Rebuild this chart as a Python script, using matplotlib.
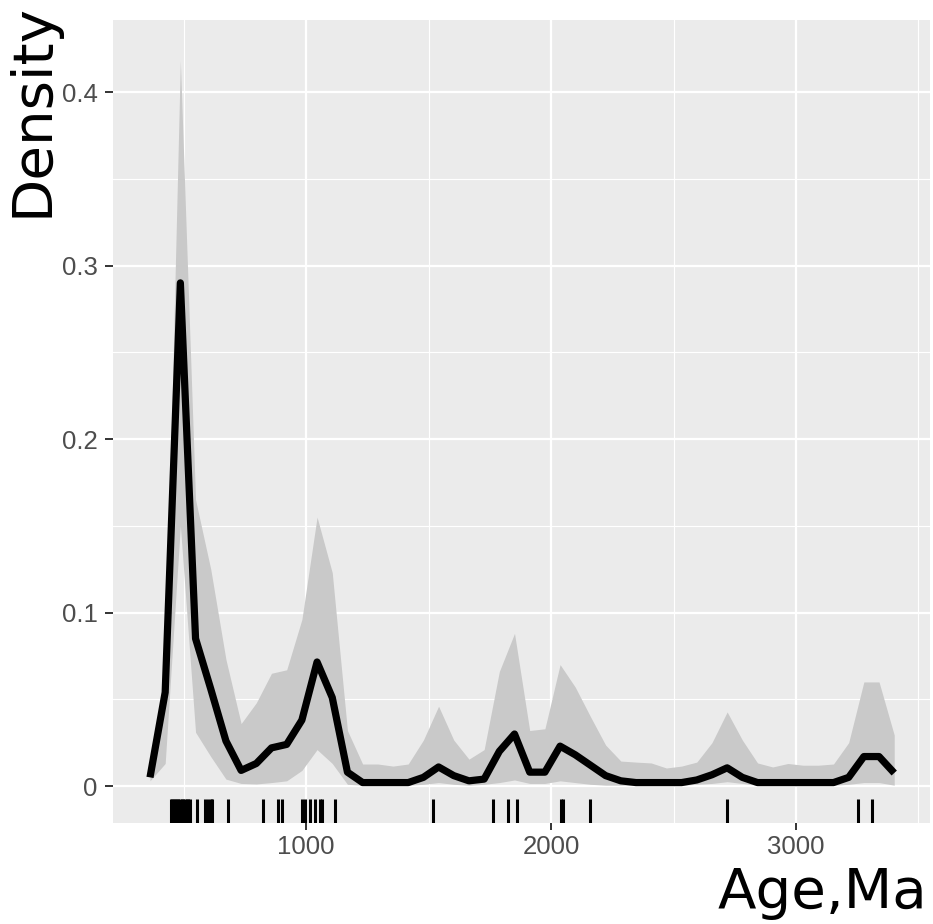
import matplotlib
matplotlib.use('Agg')
import matplotlib.pyplot as plt
import matplotlib.transforms as mtransforms
from matplotlib.ticker import FixedLocator

# ---------------- data ----------------
ages = [363, 425, 487, 549, 611, 673, 735, 797, 859, 921,
        983, 1045, 1107, 1169, 1231, 1293, 1355, 1417, 1479, 1541,
        1603, 1665, 1727, 1789, 1851, 1913, 1975, 2037, 2099, 2161,
        2223, 2285, 2347, 2409, 2471, 2533, 2595, 2657, 2719, 2781,
        2843, 2905, 2967, 3029, 3091, 3153, 3215, 3277, 3339, 3401]

density = [0.005, 0.054, 0.290, 0.085, 0.056, 0.026, 0.009, 0.013, 0.022, 0.024,
           0.038, 0.0715, 0.051, 0.008, 0.002, 0.002, 0.002, 0.002, 0.005, 0.011,
           0.006, 0.003, 0.004, 0.020, 0.030, 0.008, 0.008, 0.023, 0.018, 0.012,
           0.006, 0.003, 0.002, 0.002, 0.002, 0.002, 0.0035, 0.0065, 0.0105, 0.005,
           0.002, 0.002, 0.002, 0.002, 0.002, 0.002, 0.005, 0.017, 0.017, 0.0075]

upper = [0.007, 0.060, 0.418, 0.165, 0.125, 0.073, 0.036, 0.048, 0.065, 0.067,
         0.096, 0.155, 0.123, 0.032, 0.0127, 0.0127, 0.0115, 0.0127, 0.0265, 0.046,
         0.0265, 0.0155, 0.021, 0.066, 0.088, 0.032, 0.033, 0.070, 0.057, 0.040,
         0.0236, 0.0144, 0.0138, 0.0133, 0.0104, 0.0115, 0.0138, 0.025, 0.0427, 0.0265,
         0.0133, 0.011, 0.013, 0.012, 0.012, 0.0127, 0.025, 0.060, 0.060, 0.0294]

lower = [0.003, 0.013, 0.150, 0.031, 0.017, 0.004, 0.0015, 0.0012, 0.002, 0.003,
         0.009, 0.021, 0.013, 0.001, 0.0005, 0.0005, 0.0005, 0.0005, 0.001, 0.002,
         0.001, 0.0005, 0.001, 0.002, 0.0035, 0.0015, 0.0015, 0.003, 0.002, 0.001,
         0.0005, 0.0005, 0.0005, 0.0005, 0.0005, 0.0005, 0.001, 0.0015, 0.0025, 0.0015,
         0.0005, 0.0005, 0.0005, 0.0005, 0.0005, 0.0005, 0.001, 0.002, 0.002, 0.0005]

rug_ages = [447, 453, 459, 466, 472, 479, 486, 492, 499, 506, 513, 520, 526,
            555, 588, 600, 611, 618, 682, 825, 884, 900,
            984, 996, 1016, 1037, 1057, 1067, 1118,
            1518, 1763, 1824, 1861, 2039, 2047, 2159, 2718, 3253, 3310]

x_ticks = [1000, 2000, 3000]
x_tick_labels = ['1000', '2000', '3000']
x_minor = [500, 1500, 2500, 3500]
y_ticks = [0, 0.1, 0.2, 0.3, 0.4]
y_tick_labels = ['0', '0.1', '0.2', '0.3', '0.4']
y_minor = [0.05, 0.15, 0.25, 0.35]

# ---------------- figure ----------------
W, H = 933, 924
fig = plt.figure(figsize=(W / 100, H / 100), dpi=100)
fig.patch.set_facecolor('white')
pl, pr, pt, pb = 113, 930, 20, 823
ax = fig.add_axes([pl / W, 1 - pb / H, (pr - pl) / W, (pb - pt) / H])
ax.set_facecolor('#EBEBEB')
ax.set_xlim(212, 3547)
ax.set_ylim(-0.0213, 0.4415)

ax.xaxis.set_major_locator(FixedLocator(x_ticks))
ax.xaxis.set_minor_locator(FixedLocator(x_minor))
ax.yaxis.set_major_locator(FixedLocator(y_ticks))
ax.yaxis.set_minor_locator(FixedLocator(y_minor))
ax.set_xticklabels(x_tick_labels)
ax.set_yticklabels(y_tick_labels)

ax.grid(which='major', color='white', linewidth=1.6)
ax.grid(which='minor', color='white', linewidth=0.8)
ax.set_axisbelow(True)
for s in ax.spines.values():
    s.set_visible(False)
ax.tick_params(which='minor', length=0)
ax.tick_params(axis='x', which='major', length=5, width=1.4, color='#333333',
               labelcolor='#4D4D4D', labelsize=18.5, pad=4)
ax.tick_params(axis='y', which='major', length=6, width=1.4, color='#333333',
               labelcolor='#4D4D4D', labelsize=18.5, pad=5)
for lbl in ax.get_xticklabels() + ax.get_yticklabels():
    lbl.set_fontfamily('Liberation Sans')

ax.fill_between(ages, lower, upper, color='#C9C9C9', linewidth=0, zorder=2)
ax.plot(ages, density, color='black', lw=5.2, solid_joinstyle='round',
        solid_capstyle='butt', zorder=3)

trans = mtransforms.blended_transform_factory(ax.transData, ax.transAxes)
ax.vlines(rug_ages, 0, 0.03, transform=trans, color='black', lw=2.2, zorder=3)

fig.text(927 / W, 1 - 908 / H, 'Age,Ma', ha='right', va='baseline',
         fontsize=40.5, family='DejaVu Sans', color='black')
fig.text(60 / W, 1 - 3 / H, 'Density', rotation=90, ha='right', va='top',
         fontsize=40.5, family='DejaVu Sans', color='black')

fig.savefig('out.png', dpi=100)
